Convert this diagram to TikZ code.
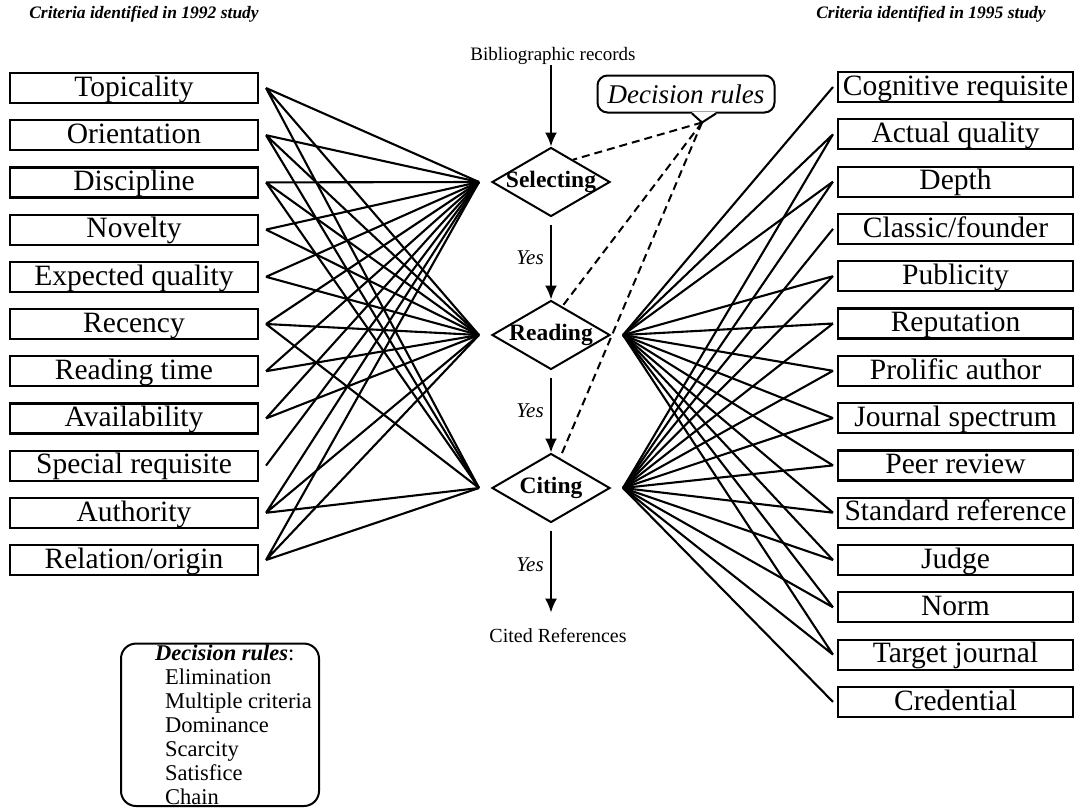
\documentclass[tikz,border=0pt]{standalone}
\usepackage{fontspec}
\setmainfont{Liberation Serif}
\usetikzlibrary{shapes,positioning,calc,arrows.meta}

\begin{document}
\begin{tikzpicture}
  [x=1pt,y=-1pt,
   criterion/.style={
    rectangle,
    draw,
    line width=2.2pt,
    minimum height=30pt,
    text height=23pt,
    text depth=6.5pt,
    inner sep=0pt,
    anchor=center,
    font=\fontsize{29.5}{31}\selectfont
    },
   oldcriterion/.style={criterion, minimum width=248pt, outer xsep=8pt},
   newcriterion/.style={criterion, minimum width=235pt, outer xsep=5pt},
   stage/.style={
    diamond,
    draw,
    line width=2pt,
    minimum width=118pt,
    minimum height=69pt,
    inner sep=0pt,
    label={center:\fontsize{23.5}{25}\selectfont\bfseries #1}
    },
   link/.style={line width=2.1pt},
   rule/.style={line width=2pt, dash pattern=on 8pt off 5pt},
   flow/.style={line width=2pt, -{Latex[length=14pt,width=12pt]}},
   yes/.style={font=\fontsize{21}{23}\selectfont\itshape, anchor=east, xshift=-3pt}
  ]
  \useasboundingbox (0,0) rectangle (1086,808);

  % TITLES
  \node[font=\fontsize{17.5}{20}\selectfont\bfseries\itshape] (oldtitle) at (144,14) {Criteria identified in 1992 study};
  \node[font=\fontsize{17.5}{20}\selectfont\bfseries\itshape] (newtitle) at (931,14) {Criteria identified in 1995 study};

  % CRITERIA 1992
  \node[oldcriterion] (topicality) at (134,88) {Topicality};
  \node[oldcriterion, below=15pt of topicality] (orientation) {Orientation};
  \node[oldcriterion, below=15pt of orientation] (discipline) {Discipline};
  \node[oldcriterion, below=15pt of discipline] (novelty) {Novelty};
  \node[oldcriterion, below=15pt of novelty] (expected) {Expected quality};
  \node[oldcriterion, below=15pt of expected] (recency) {Recency};
  \node[oldcriterion, below=15pt of recency] (readingtime) {Reading time};
  \node[oldcriterion, below=15pt of readingtime] (availability) {Availability};
  \node[oldcriterion, below=15pt of availability] (special) {Special requisite};
  \node[oldcriterion, below=15pt of special] (authority) {Authority};
  \node[oldcriterion, below=15pt of authority] (relation) {Relation/origin};

  % CRITERIA 1995
  \node[newcriterion] (cognitive) at (955.5,87) {Cognitive requisite};
  \node[newcriterion, below=15.1pt of cognitive] (actual) {Actual quality};
  \node[newcriterion, below=15.1pt of actual] (depth) {Depth};
  \node[newcriterion, below=15.1pt of depth] (classic) {Classic/founder};
  \node[newcriterion, below=15.1pt of classic] (publicity) {Publicity};
  \node[newcriterion, below=15.1pt of publicity] (reputation) {Reputation};
  \node[newcriterion, below=15.1pt of reputation] (prolific) {Prolific author};
  \node[newcriterion, below=15.1pt of prolific] (spectrum) {Journal spectrum};
  \node[newcriterion, below=15.1pt of spectrum] (peer) {Peer review};
  \node[newcriterion, below=15.1pt of peer] (standard) {Standard reference};
  \node[newcriterion, below=15.1pt of standard] (judge) {Judge};
  \node[newcriterion, below=15.1pt of judge] (norm) {Norm};
  \node[newcriterion, below=15.1pt of norm] (target) {Target journal};
  \node[newcriterion, below=15.1pt of target] (credential) {Credential};

  % STAGES
  \node[font=\fontsize{19}{21}\selectfont, inner sep=0pt] (records) at (553,56) {Bibliographic records};
  \node[stage=Selecting] (selecting) at (551,182) {};
  \node[stage=Reading] (reading) at (551,335) {};
  \node[stage=Citing] (citing) at (551,488) {};
  \node[font=\fontsize{20}{22}\selectfont, inner sep=0pt] (cited) at (558,636) {Cited References};

  \coordinate (selectingin) at ([xshift=-12pt]selecting.west);
  \coordinate (readingin) at ([xshift=-12pt]reading.west);
  \coordinate (readingout) at ([xshift=12pt]reading.east);
  \coordinate (citingin) at ([xshift=-12pt]citing.west);
  \coordinate (citingout) at ([xshift=12pt]citing.east);

  \draw[flow] (records.south -| selecting.north) -- (selecting.north);
  \draw[flow] ([yshift=-7pt]selecting.south) -- (reading.north) node[yes, pos=0.44] {Yes};
  \draw[flow] ([yshift=-7pt]reading.south) -- (citing.north) node[yes, pos=0.44] {Yes};
  \draw[flow] ([yshift=-7pt]citing.south) -- ([yshift=16pt]cited.north -| citing.south) node[yes, pos=0.42] {Yes};

  % DECISION RULES
  \node[draw, rounded corners=10pt, line width=2pt, minimum width=177pt, minimum height=37pt,
    inner sep=0pt, font=\fontsize{27}{29}\selectfont\itshape] (rules) at (686,94) {Decision rules};
  \coordinate (ruletip) at ([xshift=16pt,yshift=-9pt]rules.south);
  \fill[white] ([xshift=6pt,yshift=1.5pt]rules.south) -- (ruletip) -- ([xshift=30pt,yshift=1.5pt]rules.south) -- cycle;
  \draw[line width=2pt] ([xshift=6pt]rules.south) -- (ruletip) -- ([xshift=30pt]rules.south);

  \draw[rule] (ruletip) -- ($(selecting.north)!0.37!(selecting.east)$);
  \draw[rule] (ruletip) -- ($(reading.north)!0.19!(reading.east)$);
  \draw[rule] (ruletip) -- ($(citing.north)!0.15!(citing.east)$);

  \node[draw, rounded corners=15pt, line width=2pt, align=left, anchor=south west,
    minimum width=198pt, inner xsep=0pt, inner ysep=1pt,
    font=\fontsize{22.5}{24.1}\selectfont] (rulelist) at (120,807)
    {\hspace*{27pt}\textbf{\textit{Decision rules}}:\\
     \hspace*{37pt}Elimination\\
     \hspace*{37pt}Multiple criteria\\
     \hspace*{37pt}Dominance\\
     \hspace*{37pt}Scarcity\\
     \hspace*{37pt}Satisfice\\
     \hspace*{37pt}Chain};

  % LINKS 1992
  \draw[link] (topicality.east) -- (selectingin) (topicality.east) -- (readingin) (topicality.east) -- (citingin);
  \draw[link] (orientation.east) -- (selectingin) (orientation.east) -- (readingin) (orientation.east) -- (citingin);
  \draw[link] (discipline.east) -- (selectingin) (discipline.east) -- (readingin) (discipline.east) -- (citingin);
  \draw[link] (novelty.east) -- (selectingin) (novelty.east) -- (readingin);
  \draw[link] (expected.east) -- (selectingin) (expected.east) -- (readingin);
  \draw[link] (recency.east) -- (selectingin) (recency.east) -- (readingin) (recency.east) -- (citingin);
  \draw[link] (readingtime.east) -- (selectingin) (readingtime.east) -- (readingin);
  \draw[link] (availability.east) -- (selectingin) (availability.east) -- (readingin);
  \draw[link] (special.east) -- (selectingin);
  \draw[link] (authority.east) -- (selectingin) (authority.east) -- (readingin) (authority.east) -- (citingin);
  \draw[link] (relation.east) -- (selectingin) (relation.east) -- (readingin) (relation.east) -- (citingin);

  % LINKS 1995
  \draw[link] (cognitive.west) -- (readingout);
  \draw[link] (actual.west) -- (readingout) (actual.west) -- (citingout);
  \draw[link] (depth.west) -- (readingout) (depth.west) -- (citingout);
  \draw[link] (classic.west) -- (citingout);
  \draw[link] (publicity.west) -- (readingout) (publicity.west) -- (citingout);
  \draw[link] (reputation.west) -- (readingout) (reputation.west) -- (citingout);
  \draw[link] (prolific.west) -- (readingout) (prolific.west) -- (citingout);
  \draw[link] (spectrum.west) -- (readingout) (spectrum.west) -- (citingout);
  \draw[link] (peer.west) -- (readingout) (peer.west) -- (citingout);
  \draw[link] (standard.west) -- (readingout) (standard.west) -- (citingout);
  \draw[link] (judge.west) -- (readingout) (judge.west) -- (citingout);
  \draw[link] (norm.west) -- (readingout) (norm.west) -- (citingout);
  \draw[link] (target.west) -- (readingout) (target.west) -- (citingout);
  \draw[link] (credential.west) -- (citingout);
\end{tikzpicture}
\end{document}
